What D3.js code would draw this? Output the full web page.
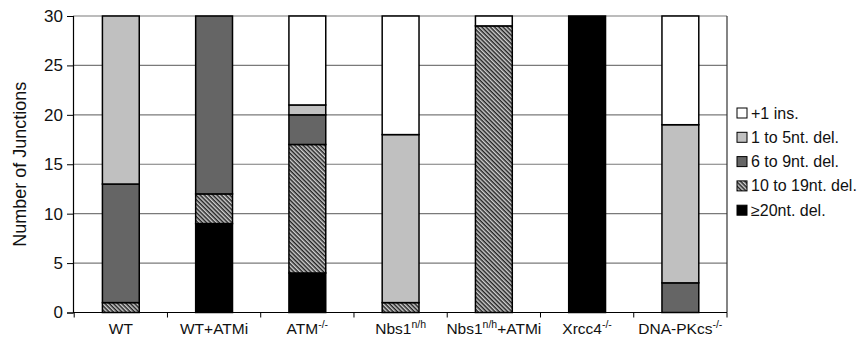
<!DOCTYPE html>
<meta charset="utf-8">
<head>
<title>Junctions</title>
<script src="https://d3js.org/d3.v7.min.js"></script>
<style>
  body { margin: 0; background: #fff; }
  text { font-family: "Liberation Sans", Arial, sans-serif; fill: #111; }
</style>
</head>
<body>
<div id="chart"></div>
<script>
  // categories and labels (main text, superscript, trailing text)
  var categories = ["WT", "WT+ATMi", "ATM", "Nbs1", "Nbs1+ATMi", "Xrcc4", "DNA-PKcs"];
  var labelParts = [
    ["WT", "", ""],
    ["WT+ATMi", "", ""],
    ["ATM", "-/-", ""],
    ["Nbs1", "n/h", ""],
    ["Nbs1", "n/h", "+ATMi"],
    ["Xrcc4", "-/-", ""],
    ["DNA-PKcs", "-/-", ""]
  ];

  // series, bottom to top
  var seriesKeys = ["ge20", "d10to19", "d6to9", "d1to5", "ins1"];
  var seriesNames = {
    ins1: "+1 ins.",
    d1to5: "1 to 5nt. del.",
    d6to9: "6 to 9nt. del.",
    d10to19: "10 to 19nt. del.",
    ge20: "\u226520nt. del."
  };
  var ge20    = [0, 9, 4, 0, 0, 30, 0];
  var d10to19 = [1, 3, 13, 1, 29, 0, 0];
  var d6to9   = [12, 18, 3, 0, 0, 0, 3];
  var d1to5   = [17, 0, 1, 17, 0, 0, 16];
  var ins1    = [0, 0, 9, 12, 1, 0, 11];
  var yTicks = [0, 5, 10, 15, 20, 25, 30];

  var data = categories.map(function(c, i) {
    return { cat: c, ge20: ge20[i], d10to19: d10to19[i], d6to9: d6to9[i], d1to5: d1to5[i], ins1: ins1[i] };
  });

  var W = 862, H = 339;
  var margin = {top: 16, right: 135, bottom: 26.5, left: 73};
  var width = W - margin.left - margin.right,
      height = H - margin.top - margin.bottom;

  var svg = d3.select("#chart").append("svg")
      .attr("width", W).attr("height", H);

  // hatch pattern
  var defs = svg.append("defs");
  var pat = defs.append("pattern")
      .attr("id", "hatch")
      .attr("patternUnits", "userSpaceOnUse")
      .attr("width", 4).attr("height", 3)
      .attr("patternTransform", "rotate(45)");
  pat.append("rect").attr("width", 4).attr("height", 3).attr("fill", "#d0d0d0");
  pat.append("line").attr("x1", 0).attr("x2", 4).attr("y1", 0.75).attr("y2", 0.75)
      .attr("stroke", "#222").attr("stroke-width", 1.5);

  var fills = {
    ins1: "#ffffff",
    d1to5: "#c0c0c0",
    d6to9: "#656565",
    d10to19: "url(#hatch)",
    ge20: "#000000"
  };

  var g = svg.append("g")
      .attr("transform", "translate(" + margin.left + "," + margin.top + ")");

  var x = d3.scaleBand().domain(categories).range([1.2, width])
      .paddingInner(0.605).paddingOuter(0.3025);
  var y = d3.scaleLinear().domain([0, 30]).range([height, 0]);

  // gridlines
  g.append("g").selectAll("line")
    .data(yTicks.filter(function(d) { return d > 0; }))
    .enter().append("line")
      .attr("x1", 0).attr("x2", width)
      .attr("y1", function(d) { return y(d); })
      .attr("y2", function(d) { return y(d); })
      .attr("stroke", "#7a7a7a").attr("stroke-width", 1.2);

  // right border of plot area
  g.append("line")
      .attr("x1", width).attr("x2", width).attr("y1", 0).attr("y2", height)
      .attr("stroke", "#333").attr("stroke-width", 1.2);

  // stacked bars
  var stacked = d3.stack().keys(seriesKeys)(data);
  g.append("g").selectAll("g")
    .data(stacked)
    .enter().append("g")
      .attr("fill", function(s) { return fills[s.key]; })
    .selectAll("rect")
    .data(function(s) { return s.filter(function(d) { return d[1] - d[0] > 0; }); })
    .enter().append("rect")
      .attr("x", function(d) { return x(d.data.cat); })
      .attr("y", function(d) { return y(d[1]); })
      .attr("width", x.bandwidth())
      .attr("height", function(d) { return y(d[0]) - y(d[1]); })
      .attr("stroke", "#000").attr("stroke-width", 1.5);

  // y axis
  var yAxis = g.append("g")
      .call(d3.axisLeft(y).tickValues(yTicks).tickSize(6).tickPadding(4));
  yAxis.select(".domain").attr("stroke", "#000").attr("stroke-width", 1.2);
  yAxis.selectAll("line").attr("stroke", "#000");
  yAxis.selectAll("text").style("font-size", "17px").attr("fill", "#111");

  // x axis with boundary ticks
  var xAxisG = g.append("g").attr("transform", "translate(0," + height + ")");
  xAxisG.append("line").attr("x1", 0).attr("x2", width)
      .attr("stroke", "#000").attr("stroke-width", 1.2);
  var step = x.step();
  xAxisG.selectAll(".btick")
    .data(d3.range(categories.length + 1))
    .enter().append("line")
      .attr("x1", function(i) { return 1.2 + i * step; })
      .attr("x2", function(i) { return 1.2 + i * step; })
      .attr("y1", 0).attr("y2", 5)
      .attr("stroke", "#000");

  var lbl = xAxisG.selectAll(".lbl")
    .data(labelParts)
    .enter().append("text")
      .attr("x", function(d, i) { return x(categories[i]) + x.bandwidth() / 2; })
      .attr("y", 21)
      .attr("text-anchor", "middle")
      .style("font-size", "15.5px");
  lbl.append("tspan").text(function(d) { return d[0]; });
  lbl.filter(function(d) { return d[1]; }).append("tspan")
      .attr("dy", -6).style("font-size", "10.5px").text(function(d) { return d[1]; });
  lbl.filter(function(d) { return d[2]; }).append("tspan")
      .attr("dy", 6).text(function(d) { return d[2]; });

  // y axis title
  svg.append("text")
      .attr("transform", "translate(26," + (margin.top + height / 2) + ") rotate(-90)")
      .attr("text-anchor", "middle")
      .style("font-size", "18px")
      .text("Number of Junctions");

  // legend
  var legendOrder = ["ins1", "d1to5", "d6to9", "d10to19", "ge20"];
  var legend = svg.append("g").attr("transform", "translate(737,108)");
  var items = legend.selectAll("g")
    .data(legendOrder)
    .enter().append("g")
      .attr("transform", function(d, i) { return "translate(0," + (i * 24.3) + ")"; });
  items.append("rect")
      .attr("width", 10).attr("height", 10)
      .attr("fill", function(d) { return fills[d]; })
      .attr("stroke", "#000").attr("stroke-width", 1);
  items.append("text")
      .attr("x", 14).attr("y", 10.5)
      .style("font-size", "16px")
      .text(function(d) { return seriesNames[d]; });
</script>
</body>
